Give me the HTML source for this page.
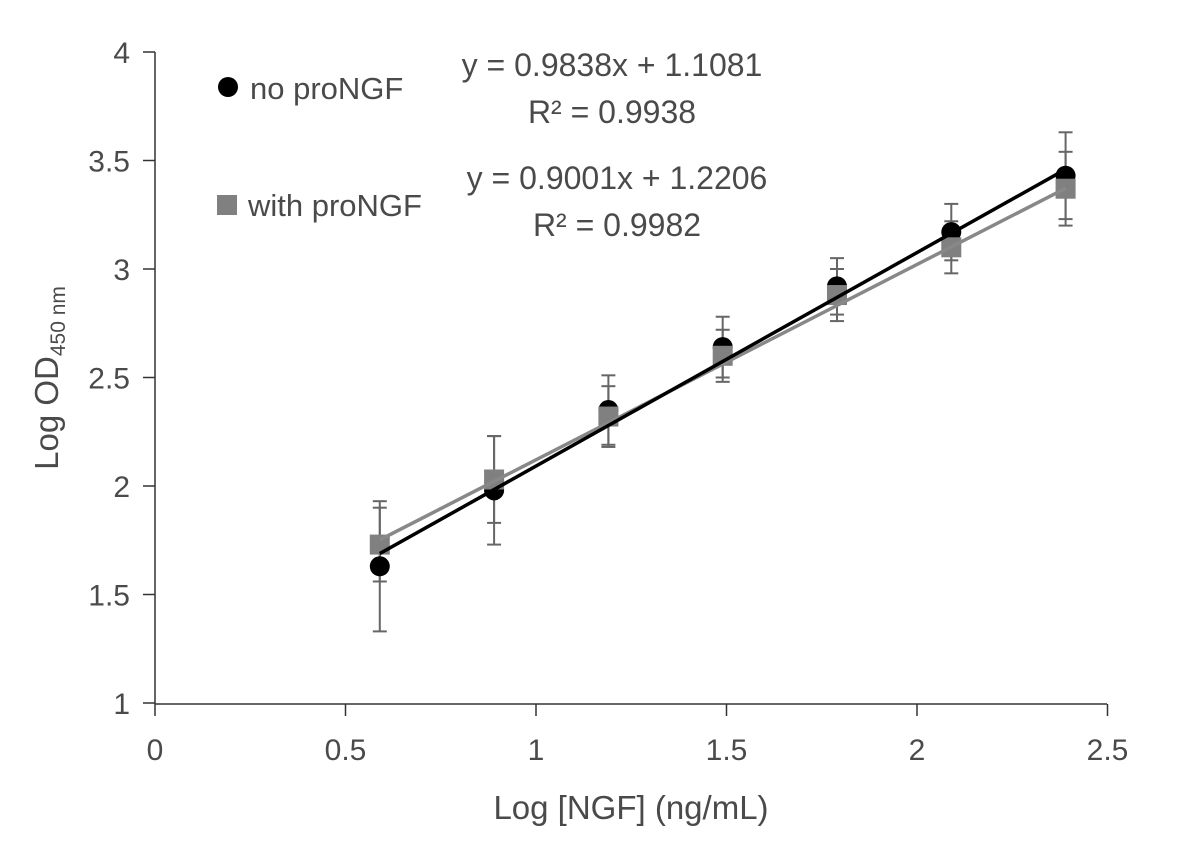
<!DOCTYPE html>
<html><head><meta charset="utf-8"><style>
body{margin:0;background:#fff}
svg text{font-family:"Liberation Sans",sans-serif;fill:#4a4a4a}
</style></head><body>
<svg width="1200" height="850" id="c">
</svg>
<script>
const xs=[0.59,0.89,1.19,1.49,1.79,2.09,2.39];
const noPro=[1.63,1.98,2.35,2.64,2.92,3.17,3.43];
const noProErr=[0.30,0.25,0.16,0.14,0.13,0.13,0.20];
const withPro=[1.73,2.03,2.32,2.60,2.88,3.10,3.37];
const withProErr=[0.17,0.20,0.14,0.12,0.12,0.12,0.17];
const xTicks=[0,0.5,1,1.5,2,2.5];
const yTicks=[1,1.5,2,2.5,3,3.5,4];
const fitNo=[0.9838,1.1081];
const fitWith=[0.9001,1.2206];
const svg=document.getElementById('c');
const NS='http://www.w3.org/2000/svg';
const X=v=>155+v*381;
const Y=v=>703-(v-1)*217;
function mk(t,a,p){const e=document.createElementNS(NS,t);for(const k in a)e.setAttribute(k,a[k]);(p||svg).appendChild(e);return e;}
let e;
e=mk('line',{x1:155,y1:52,x2:155,y2:704,stroke:'#333','stroke-width':1.5});


e=mk('line',{x1:155,y1:704,x2:1107,y2:704,stroke:'#333','stroke-width':1.5});


yTicks.forEach(v=>{
 mk('line',{x1:143,y1:Y(v),x2:155,y2:Y(v),stroke:'#333','stroke-width':1.5});
 e=mk('text',{x:130,y:Y(v)+11,'text-anchor':'end','font-size':30});e.textContent=String(v);
 
 
});
xTicks.forEach(v=>{
 mk('line',{x1:X(v),y1:704,x2:X(v),y2:716,stroke:'#333','stroke-width':1.5});
 e=mk('text',{x:X(v),y:760,'text-anchor':'middle','font-size':30});e.textContent=String(v);
 
 
});
e=mk('text',{x:631,y:819,'text-anchor':'middle','font-size':33});e.textContent='Log [NGF] (ng/mL)';


e=mk('text',{transform:'translate(58,378) rotate(-90)','text-anchor':'middle','font-size':33});
e.innerHTML='Log OD<tspan font-size="21" dy="7">450 nm</tspan>';


function errs(vals,er,name){xs.forEach((x,i)=>{
 const g=mk('g',{stroke:'#666','stroke-width':2});
 
 
 mk('line',{x1:X(x),x2:X(x),y1:Y(vals[i]+er[i]),y2:Y(vals[i]-er[i])},g);
 mk('line',{x1:X(x)-7,x2:X(x)+7,y1:Y(vals[i]+er[i]),y2:Y(vals[i]+er[i])},g);
 mk('line',{x1:X(x)-7,x2:X(x)+7,y1:Y(vals[i]-er[i]),y2:Y(vals[i]-er[i])},g);
});}
errs(noPro,noProErr,'error-bar-no-pro');
errs(withPro,withProErr,'error-bar-with-pro');
xs.forEach((x,i)=>{
 e=mk('circle',{cx:X(x),cy:Y(noPro[i]),r:10,fill:'#000'});
 
 
});
xs.forEach((x,i)=>{
 e=mk('rect',{x:X(x)-10,y:Y(withPro[i])-10,width:20,height:20,fill:'#808080'});
 
 
});
const x0=xs[0],x1=xs[xs.length-1];
e=mk('line',{x1:X(x0),y1:Y(fitWith[0]*x0+fitWith[1]),x2:X(x1),y2:Y(fitWith[0]*x1+fitWith[1]),stroke:'#888','stroke-width':3.5});


e=mk('line',{x1:X(x0),y1:Y(fitNo[0]*x0+fitNo[1]),x2:X(x1),y2:Y(fitNo[0]*x1+fitNo[1]),stroke:'#000','stroke-width':3.5});


e=mk('circle',{cx:228,cy:87,r:10,fill:'#000'});


e=mk('text',{x:250,y:99,'font-size':31});e.textContent='no proNGF';


e=mk('rect',{x:217,y:195,width:20,height:20,fill:'#808080'});


e=mk('text',{x:248,y:216,'font-size':31});e.textContent='with proNGF';


[['y = 0.9838x + 1.1081',612,76,'equation-no-pro'],['R² = 0.9938',612,123,'r2-no-pro'],['y = 0.9001x + 1.2206',617,189,'equation-with-pro'],['R² = 0.9982',617,236,'r2-with-pro']].forEach(d=>{
 e=mk('text',{x:d[1],y:d[2],'text-anchor':'middle','font-size':32});e.textContent=d[0];
 
 
});
</script>
</body></html>
